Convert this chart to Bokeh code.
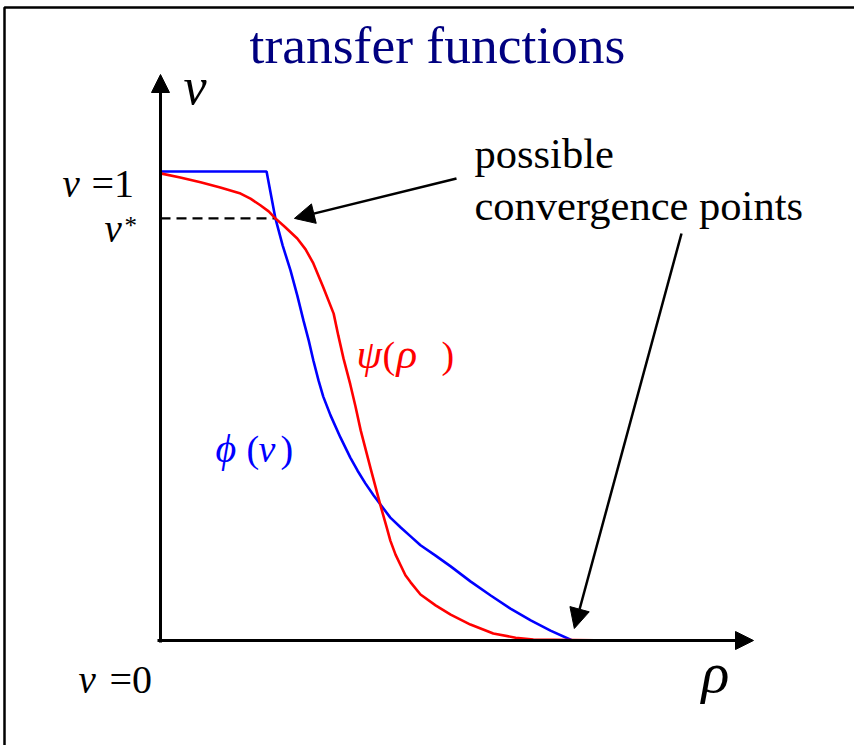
from bokeh.plotting import figure
from bokeh.models import Range1d, Arrow, NormalHead, Label
from bokeh.embed import file_html
from bokeh.resources import INLINE

# phi(v): blue transfer function (rho on x, v on y)
rho_phi = [0.000, 0.204, 0.221, 0.235, 0.250, 0.263, 0.275, 0.285, 0.294,
           0.304, 0.313, 0.327, 0.346, 0.365, 0.379, 0.394, 0.410, 0.427,
           0.442, 0.462, 0.481, 0.500, 0.529, 0.558, 0.596, 0.635, 0.673,
           0.712, 0.750, 0.792, 1.000]
v_phi = [1.000, 1.000, 0.900, 0.842, 0.789, 0.736, 0.682, 0.640, 0.597,
         0.554, 0.520, 0.480, 0.433, 0.390, 0.362, 0.335, 0.309, 0.284,
         0.262, 0.241, 0.222, 0.203, 0.181, 0.158, 0.126, 0.096, 0.068,
         0.043, 0.021, 0.000, 0.000]

# psi(rho): red transfer function
rho_psi = [0.000, 0.038, 0.077, 0.115, 0.154, 0.173, 0.192, 0.208, 0.221,
           0.240, 0.263, 0.279, 0.294, 0.313, 0.333, 0.342, 0.352, 0.365,
           0.375, 0.385, 0.404, 0.423, 0.435, 0.442, 0.452, 0.462, 0.471,
           0.481, 0.500, 0.529, 0.558, 0.596, 0.640, 0.683, 0.717, 0.875]
v_psi = [0.996, 0.987, 0.977, 0.966, 0.953, 0.942, 0.928, 0.915, 0.900,
         0.881, 0.857, 0.834, 0.804, 0.753, 0.697, 0.650, 0.601, 0.546,
         0.499, 0.448, 0.367, 0.288, 0.241, 0.213, 0.183, 0.160, 0.139,
         0.124, 0.098, 0.075, 0.055, 0.034, 0.015, 0.006, 0.002, 0.000]

v_star = 0.900        # level of the upper fixed point
rho_star = 0.221
rho_low = 0.792       # lower fixed point on the rho axis

W, H = 854, 745
OX, OY = 160, 640     # pixel position of the origin
SX, SY = 520, 469     # pixels per unit of rho and v


def dx(px):
    return (px - OX) / SX


def dy(py):
    return (OY - py) / SY


p = figure(width=W, height=H, output_backend="svg", toolbar_location=None,
           x_range=Range1d(dx(0), dx(W)), y_range=Range1d(dy(H), dy(0)),
           min_border=0, outline_line_color=None)
p.axis.visible = False
p.grid.visible = False
p.background_fill_color = "white"

SERIF = "Liberation Serif"

# slide frame (top and left edges)
p.line([dx(4), dx(4), dx(W + 10)], [dy(H + 10), dy(7), dy(7)],
       line_color="black", line_width=2.5)

# axes with arrow heads
p.add_layout(Arrow(end=NormalHead(size=18, fill_color="black", line_color="black"),
                   x_start=dx(157), y_start=0, x_end=dx(753), y_end=0,
                   line_color="black", line_width=3))
p.add_layout(Arrow(end=NormalHead(size=18, fill_color="black", line_color="black"),
                   x_start=0, y_start=dy(642), x_end=0, y_end=dy(74),
                   line_color="black", line_width=3))

# dashed guide at v*
p.line([0, rho_star], [v_star, v_star], line_color="black", line_width=2.2,
       line_dash="10 6")

# curves
p.line(rho_phi, v_phi, line_color="#0000FF", line_width=2.6)
p.line(rho_psi, v_psi, line_color="#FF0000", line_width=2.6)

# annotation arrows pointing at the fixed points
p.add_layout(Arrow(end=NormalHead(size=20, fill_color="black", line_color="black"),
                   x_start=dx(456), y_start=dy(178),
                   x_end=rho_star + dx(294) - dx(275), y_end=v_star,
                   line_color="black", line_width=2.5))
p.add_layout(Arrow(end=NormalHead(size=20, fill_color="black", line_color="black"),
                   x_start=dx(681), y_start=dy(233),
                   x_end=rho_low + dx(574) - dx(572), y_end=dy(628),
                   line_color="black", line_width=2.5))


def txt(s, px, py, size, color="black", style="normal", align="left"):
    # py is the pixel row of the text baseline
    p.add_layout(Label(x=dx(px), y=dy(py - 0.31 * size), text=s, text_font=SERIF,
                       text_font_size=f"{size}px", text_color=color,
                       text_font_style=style, text_align=align,
                       text_baseline="alphabetic"))


# title
txt("transfer functions", 437, 61, 53.5, color="#000080", align="center")

# axis labels
txt("v", 183, 102, 52, style="italic")
txt("\u03c1", 701, 690, 58, style="italic")

# labels on the v axis
txt("v", 62, 195, 39, style="italic")
txt("=1", 91, 195, 40)
txt("v", 104, 240, 39, style="italic")
txt("*", 124, 233, 25)
txt("v", 78, 691, 39, style="italic")
txt("=0", 109, 691, 40)

# curve names
txt("\u03c8", 356, 366, 41, color="#FF0000", style="italic")
txt("(", 382, 366, 38, color="#FF0000")
txt("\u03c1", 396, 366, 43, color="#FF0000", style="italic")
txt(")", 441, 366, 38, color="#FF0000")

txt("\u03d5", 215, 460, 40, color="#0000FF", style="italic")
txt("(", 246, 460, 38, color="#0000FF")
txt("v", 258, 460, 38, color="#0000FF", style="italic")
txt(")", 280, 460, 38, color="#0000FF")

# callout text
txt("possible", 474, 166, 42.5)
txt("convergence points", 474, 218, 42.5)

open("out.html", "w").write(file_html(p, INLINE))
